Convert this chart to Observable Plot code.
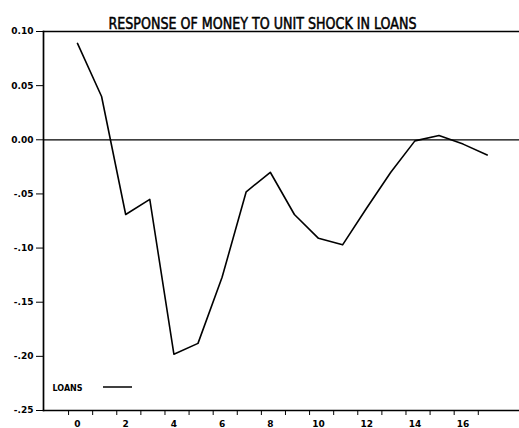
<!DOCTYPE html>
<html>
<head>
<meta charset="utf-8">
<script src="https://cdn.jsdelivr.net/npm/d3@7"></script>
<script src="https://cdn.jsdelivr.net/npm/@observablehq/plot@0.6"></script>
<style>
  html, body { margin: 0; padding: 0; background: #fff; }
  #chart svg { display: block; }
</style>
</head>
<body>
<div id="chart"></div>
<script>
// Impulse response of money to a unit shock in loans
const chartTitle = "RESPONSE OF MONEY TO UNIT SHOCK IN LOANS";
const seriesName = "LOANS";
const periods = [0, 1, 2, 3, 4, 5, 6, 7, 8, 9, 10, 11, 12, 13, 14, 15, 16, 17];
const moneyResponse = [0.089, 0.040, -0.069, -0.055, -0.198, -0.188, -0.127, -0.048, -0.030,
                       -0.069, -0.091, -0.097, -0.063, -0.030, -0.001, 0.004, -0.004, -0.014];

// axis ticks and labels
const yTickValues = [0.10, 0.05, 0.00, -0.05, -0.10, -0.15, -0.20, -0.25];
const yTickLabels = ["0.10", "0.05", "0.00", "-.05", "-.10", "-.15", "-.20", "-.25"];
const xLabelValues = [0, 2, 4, 6, 8, 10, 12, 14, 16];
const xTickLabels = ["0", "2", "4", "6", "8", "10", "12", "14", "16"];
const xTickMarks = [-0.37, 0.63, 1.63, 2.63, 3.63, 4.63, 5.63, 6.63, 7.63, 8.63,
                    9.63, 10.63, 11.63, 12.63, 13.63, 14.63, 15.63, 16.63];
const xDomain = [-1.41, 18.34];
const yDomain = [-0.25, 0.10];

const rows = periods.map((p, i) => ({period: p, value: moneyResponse[i]}));

const labelFont = "'DejaVu Sans', sans-serif";

const chart = Plot.plot({
  width: 519,
  height: 428,
  marginLeft: 43,
  marginRight: 0,
  marginTop: 31,
  marginBottom: 18,
  style: {background: "#fff", color: "#000", fontFamily: labelFont},
  x: {domain: xDomain, axis: null},
  y: {domain: yDomain, axis: null},
  marks: [
    // frame: left, top and bottom edges
    Plot.frame({anchor: "left", stroke: "#000", strokeWidth: 1.7}),
    Plot.frame({anchor: "top", stroke: "#000", strokeWidth: 1.5}),
    Plot.frame({anchor: "bottom", stroke: "#000", strokeWidth: 1.5}),
    // zero reference
    Plot.ruleY([0], {stroke: "#000", strokeWidth: 1.3}),
    // y axis
    Plot.axisY({
      ticks: yTickValues,
      tickFormat: (d, i) => yTickLabels[i],
      tickSize: 7,
      tickPadding: 3,
      tickWidth: 1.4,
      fontSize: 9,
      fontWeight: "bold",
      label: null
    }),
    // x axis tick marks
    Plot.axisX({
      ticks: xTickMarks,
      tickFormat: () => "",
      tickSize: 5,
      tickWidth: 1.2,
      label: null
    }),
    // x axis labels
    Plot.axisX({
      ticks: xLabelValues,
      tickFormat: (d, i) => xTickLabels[i],
      tickSize: 0,
      tickPadding: 10,
      fontSize: 9,
      fontWeight: "bold",
      label: null
    }),
    // response path
    Plot.line(rows, {x: "period", y: "value", stroke: "#000", strokeWidth: 1.6}),
    // title
    Plot.text([chartTitle], {
      frameAnchor: "top",
      dx: -19,
      dy: -14,
      fontSize: 15.5,
      fontFamily: "'DejaVu Sans Condensed', 'DejaVu Sans', sans-serif",
      fill: "#000",
      stroke: "#000",
      strokeWidth: 0.5,
      className: "chart-title"
    }),
    // legend label
    Plot.text([seriesName], {
      frameAnchor: "bottom-left",
      dx: 9,
      dy: -20,
      textAnchor: "start",
      fontSize: 8,
      fontWeight: "bold",
      fill: "#000"
    })
  ]
});

document.getElementById("chart").appendChild(chart);

// stretch the title to its printed width and add the legend swatch
const svg = d3.select(chart);
svg.select(".chart-title text").attr("textLength", 308).attr("lengthAdjust", "spacingAndGlyphs");
svg.append("line")
  .attr("x1", 103).attr("x2", 132)
  .attr("y1", 428 - 18 - 23).attr("y2", 428 - 18 - 23)
  .attr("stroke", "#000").attr("stroke-width", 1.5);
</script>
</body>
</html>
